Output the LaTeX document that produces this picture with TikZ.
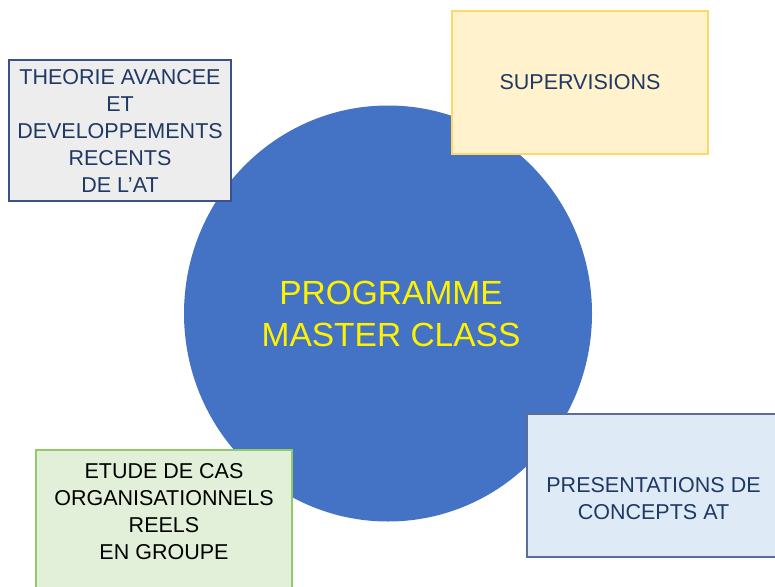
\documentclass[tikz,border=0pt]{standalone}
\usepackage{fontspec}
\setmainfont{Liberation Sans}
\usetikzlibrary{shapes.geometric}
\definecolor{circblue}{HTML}{4472C4}
\definecolor{navy}{HTML}{1F3864}
\definecolor{greyfill}{HTML}{EDEDED}
\definecolor{greyline}{HTML}{3B5189}
\definecolor{yelfill}{HTML}{FFF2CC}
\definecolor{yelline}{HTML}{FFD966}
\definecolor{grnfill}{HTML}{E2F0D9}
\definecolor{grnline}{HTML}{8FCB6A}
\definecolor{blufill}{HTML}{DEEBF7}
\definecolor{bluline}{HTML}{5B6E99}
\tikzset{
  box/.style={rectangle, inner sep=0pt, outer sep=0pt, line width=1.2pt},
  boxtext/.style={inner sep=0pt, align=center, font=\fontsize{21.5}{27}\selectfont},
}
\begin{document}
\begin{tikzpicture}[x=1pt,y=-1pt]
\useasboundingbox (0,0) rectangle (775,586);
\fill[white] (0,0) rectangle (775,586);
\node[ellipse, fill=circblue, minimum width=408pt, minimum height=416pt, inner sep=0pt] (circ) at (388,313.5) {};
\node[align=center, text=yellow, font=\fontsize{33.5}{42}\selectfont] (title) at (391,314) {PROGRAMME\\MASTER CLASS};
\node[box, draw=greyline, fill=greyfill, minimum width=222pt, minimum height=141pt] (theory) at (120,130.5) {};
\node[boxtext, text=navy] (theorytxt) at (120,131) {THEORIE AVANCEE\\ET\\DEVELOPPEMENTS\\RECENTS\\DE L’AT};
\node[box, draw=yelline, fill=yelfill, minimum width=256pt, minimum height=143pt] (sup) at (580,82.5) {};
\node[boxtext, text=navy] (suptxt) at (580,82) {SUPERVISIONS};
\node[box, draw=grnline, fill=grnfill, minimum width=256pt, minimum height=160pt] (etude) at (164,530) {};
\node[boxtext, text=black] (etudetxt) at (164,511.5) {ETUDE DE CAS\\ORGANISATIONNELS\\REELS\\EN GROUPE};
\node[box, draw=bluline, fill=blufill, minimum width=253pt, minimum height=143pt] (pres) at (653.5,485.5) {};
\node[boxtext, text=navy] (prestxt) at (653.5,498.5) {PRESENTATIONS DE\\CONCEPTS AT};
\end{tikzpicture}
\end{document}
